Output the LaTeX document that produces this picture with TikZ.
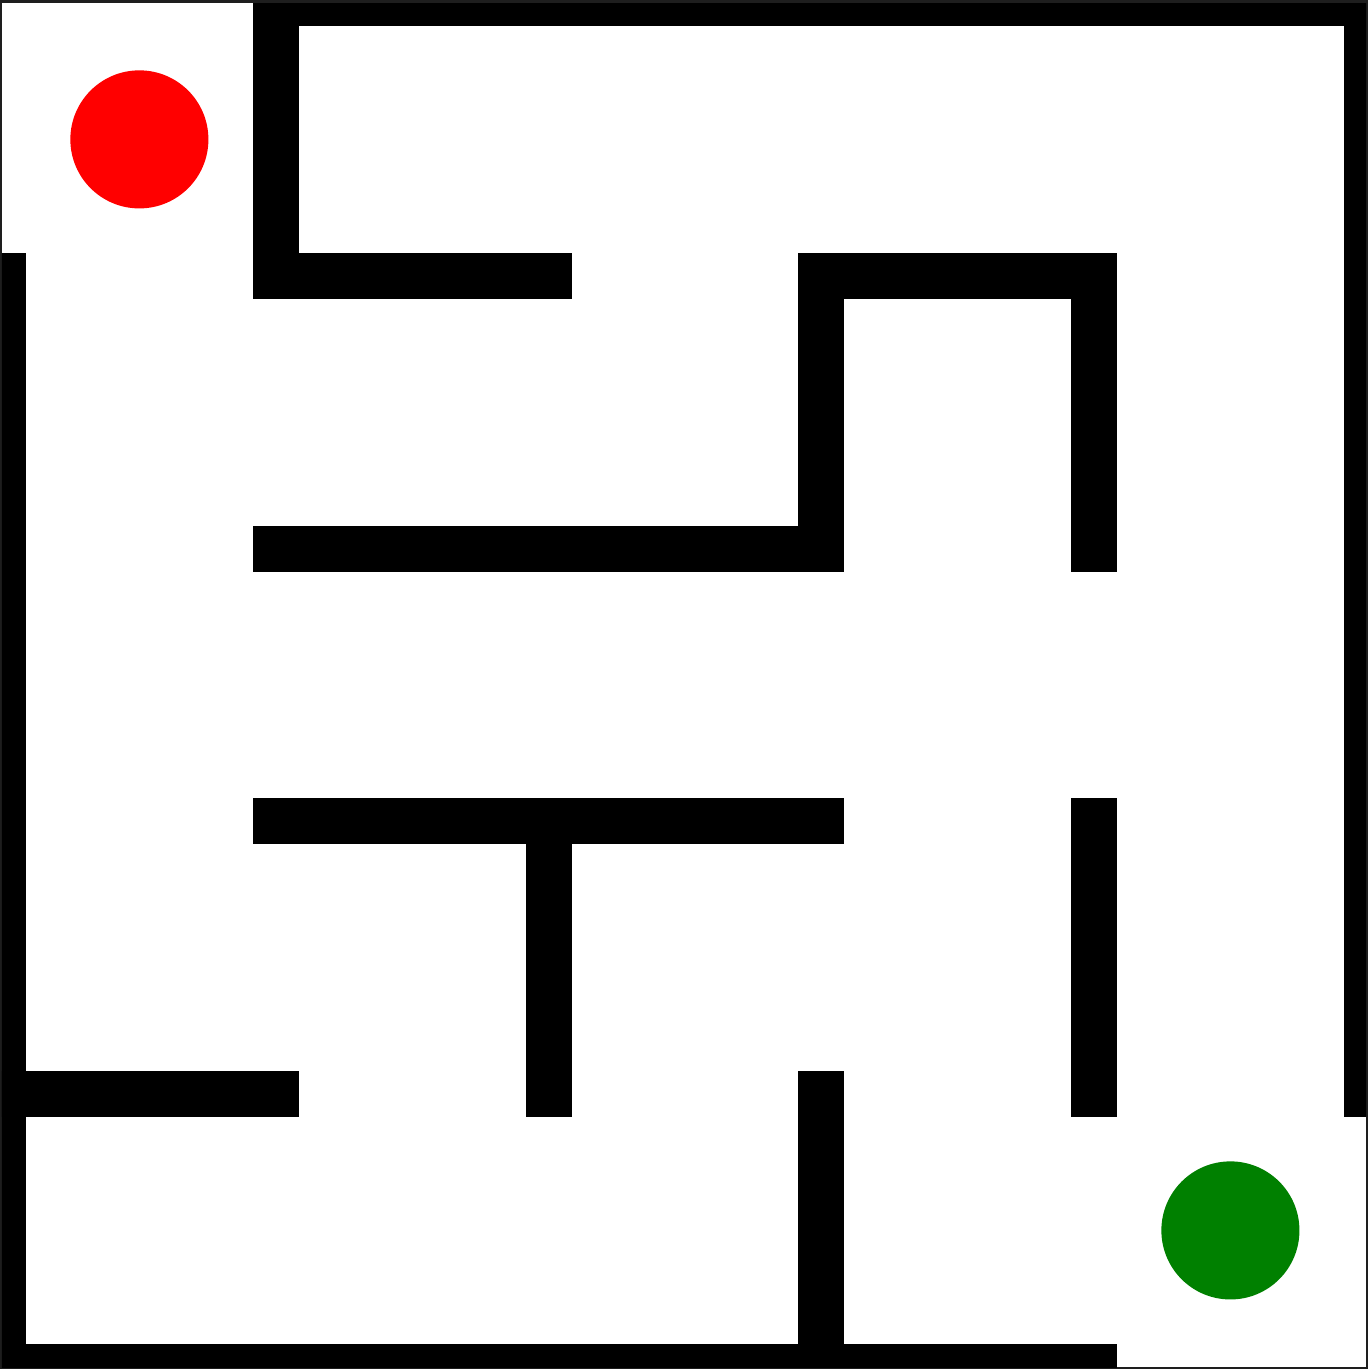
\documentclass[tikz,border=0pt]{standalone}
\definecolor{framegray}{RGB}{30,30,30}
\definecolor{goalgreen}{RGB}{0,128,0}
\begin{document}
\begin{tikzpicture}[x=0.01cm,y=-0.01cm]

	\useasboundingbox (0,0) rectangle (1368,1369);
	\fill[framegray] (0,0) rectangle (1368,1369);
	\fill[white] (2,3) rectangle (1366,1367);

	\begin{scope}
	\clip (2,3) rectangle (1366,1367);
	\begin{scope}[shift={(3,3)},x=2.726cm,y=-2.726cm,
		wall/.style={line width=0.46cm,line cap=rect,line join=miter},
		dot/.style={circle,inner sep=0pt,minimum size=1.38cm}]

	% outer walls
	\draw[wall] (1,0) -- (5,0) -- (5,4);
	\draw[wall] (0,1) -- (0,5) -- (4,5);

	% inner walls
	\draw[wall] (1,0) -- (1,1) -- (2,1);
	\draw[wall] (1,2) -- (3,2) -- (3,1) -- (4,1) -- (4,2);
	\draw[wall] (1,3) -- (3,3);
	\draw[wall] (2,3) -- (2,4);
	\draw[wall] (4,3) -- (4,4);
	\draw[wall] (0,4) -- (1,4);
	\draw[wall] (3,4) -- (3,5);

	\node[dot,fill=red] (start) at (0.5,0.5) {};
	\node[dot,fill=goalgreen] (goal) at (4.5,4.5) {};
	\end{scope}
	\end{scope}
\end{tikzpicture}
\end{document}
